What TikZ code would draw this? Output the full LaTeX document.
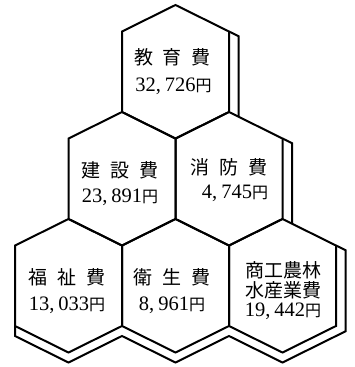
\documentclass[tikz,border=0pt]{standalone}
\usepackage{fontspec}
\setmainfont{Liberation Serif}
\newfontfamily\jp{Noto Sans CJK JP}
\newcommand\yen{{\jp\fontsize{16}{16}\selectfont 円}}
\newcommand\amount[2]{{\fontsize{20.5}{21}\selectfont #1,\hspace{4pt}#2}\yen}
\begin{document}
\begin{tikzpicture}[x=1pt,y=-1pt,
  hexline/.style={line width=2pt, line join=miter},
  lab/.style={inner sep=0pt, font=\fontsize{19}{20}\selectfont},
]
\useasboundingbox (0,0) rectangle (354,367);
\newcommand\hexcell[2]{%
  \draw[hexline] (#1,#2) -- (#1+53.5,#2+26.5) -- (#1+53.5,#2+107) -- (#1,#2+133.5)
    -- (#1-53.5,#2+107) -- (#1-53.5,#2+26.5) -- cycle;}
% hexagons
\hexcell{175.5}{5}
\hexcell{122}{112}
\hexcell{229}{112}
\hexcell{68.5}{219}
\hexcell{175.5}{219}
\hexcell{282.5}{219}
% shadow edges
\draw[hexline] (229,31.5) -- (238.5,36.2) -- (238.5,116.7);
\draw[hexline] (282.5,138.5) -- (292,143.2) -- (292,223.7);
\draw[hexline] (336,245.5) -- (345.5,250.2) -- (345.5,331.3) -- (282.5,362.5)
  -- (229,336) -- (175.5,362.5) -- (122,336) -- (68.5,362.5) -- (15,336) -- (15,326);
% labels
\node[lab] (n1a) at (172.5,57) {\jp 教\hspace{10pt}育\hspace{10pt}費};
\node[lab] (n1b) at (173.5,86) {\amount{32}{726}};
\node[lab] (n2a) at (120,170) {\jp 建\hspace{10pt}設\hspace{10pt}費};
\node[lab] (n2b) at (120,197) {\amount{23}{891}};
\node[lab] (n3a) at (229,167) {\jp 消\hspace{10pt}防\hspace{10pt}費};
\node[lab] (n3b) at (235,193) {\amount{4}{745}};
\node[lab] (n4a) at (67,277) {\jp 福\hspace{10pt}祉\hspace{10pt}費};
\node[lab] (n4b) at (67,305) {\amount{13}{033}};
\node[lab] (n5a) at (172,277) {\jp 衛\hspace{10pt}生\hspace{10pt}費};
\node[lab] (n5b) at (172,305) {\amount{8}{961}};
\node[lab] (n6a) at (283,270) {\jp 商工農林};
\node[lab] (n6b) at (283,290) {\jp 水産業費};
\node[lab] (n6c) at (283,311) {\amount{19}{442}};
\end{tikzpicture}
\end{document}
